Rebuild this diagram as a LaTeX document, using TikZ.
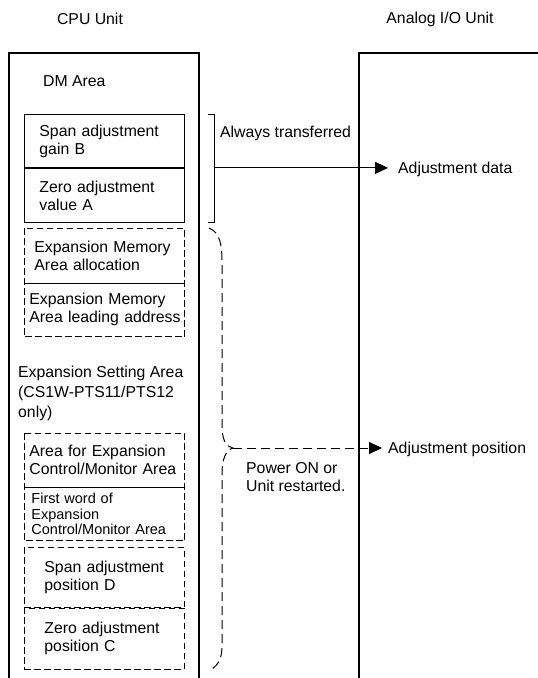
\documentclass[tikz,border=0pt]{standalone}
\usepackage{fontspec}
\setmainfont{Liberation Sans}
\usetikzlibrary{arrows.meta}
\newcommand{\lblfont}{\fontsize{15.8}{18}\selectfont}
\newcommand{\smlfont}{\fontsize{14.5}{15.5}\selectfont}
\tikzset{
  unitframe/.style={line width=1.3pt},
  cell/.style={anchor=north west, align=left, font=\lblfont, inner ysep=0pt, line width=0.9pt},
  thinline/.style={line width=0.5pt},
  dashbox/.style={line width=0.9pt, dash pattern=on 6.5pt off 3.5pt},
  bracedash/.style={line width=1pt, dash pattern=on 9pt off 5pt},
  txt/.style={font=\lblfont, inner sep=0pt, align=left},
  tip/.style={-{Triangle[length=13pt,width=12pt]}}
}
\begin{document}
\begin{tikzpicture}[x=1pt, y=-1pt]
\useasboundingbox (0,0) rectangle (538,678);

% Unit titles
\node[txt] (cputitle) at (90,19) {CPU Unit};
\node[txt] (aiotitle) at (440,19) {Analog I/O Unit};

% Unit frames, open at the bottom
\draw[unitframe] (9,678) -- (9,53) -- (199,53) -- (199,678);
\draw[unitframe] (359,678) -- (359,53) -- (538,53);

\node[txt, anchor=west] (dm) at (43,81) {DM Area};

% Words that are always transferred
\node[cell, draw, minimum height=53pt, inner xsep=15pt, text width=130pt] (gainB) at (24,114) {Span adjustment\\gain B};
\node[cell, draw, minimum height=54pt, inner xsep=15pt, text width=130pt] (valueA) at (gainB.south west) {Zero adjustment\\value A};

% Expansion Memory Area words
\node[cell, minimum height=54pt, inner xsep=10pt, text width=140pt] (alloc) at (24,228) {Expansion Memory\\Area allocation};
\node[cell, minimum height=53pt, inner xsep=5pt, text width=150pt] (lead) at (alloc.south west) {Expansion Memory\\\mbox{Area leading address}};
\draw[dashbox] (alloc.north west) rectangle (lead.south east);
\draw[thinline] (alloc.south west) -- (alloc.south east);

\node[txt, anchor=west, font=\fontsize{15.8}{20}\selectfont] (esa) at (18,393) {Expansion Setting Area\\(CS1W-PTS11/PTS12\\only)};

% Expansion Setting Area words
\node[cell, minimum height=53pt, inner xsep=5pt, text width=150pt] (ctrl) at (24,433) {Area for Expansion\\Control/Monitor Area};
\node[cell, minimum height=53pt, inner xsep=7pt, text width=146pt, font=\smlfont] (first) at (ctrl.south west) {First word of\\Expansion\\Control/Monitor Area};
\draw[dashbox] (ctrl.north west) rectangle (first.south east);
\draw[thinline] (ctrl.south west) -- (ctrl.south east);

\node[cell, draw, dashbox, minimum height=60pt, inner xsep=20pt, text width=120pt] (spanD) at (24,547) {Span adjustment\\position D};
\node[cell, draw, dashbox, minimum height=61pt, inner xsep=20pt, text width=120pt] (zeroC) at (spanD.south west) {Zero adjustment\\position C};

% Always transferred
\draw[line width=0.9pt] ([xshift=23pt]gainB.north east) -- ++(7,0) -- ([xshift=30pt]valueA.south east) -- ++(-7,0);
\coordinate (brmid) at ([xshift=30pt]gainB.south east);
\node[txt, anchor=west] (always) at (220,133) {Always transferred};
\node[txt, anchor=west, inner xsep=10pt] (adjdata) at (388,169) {Adjustment data};
\draw[line width=0.9pt, tip] (brmid) -- (brmid -| adjdata.west);

% Power ON or restart
\coordinate (brtip) at (233,448);
\draw[bracedash] ([xshift=24pt]alloc.north east) .. controls (220,232) and (222,245) .. (222,262) -- (222,425)
  .. controls (222,440) and (226,447) .. (brtip) .. controls (226,450) and (222,458) .. (222,475) -- (222,645)
  .. controls (222,658) and (219,664) .. (212,669);
\node[txt, anchor=west, inner xsep=6pt] (adjpos) at (382,449) {Adjustment position};
\draw[bracedash, tip] (brtip) -- (brtip -| adjpos.west);
\node[txt, anchor=west] (power) at (246,477.5) {Power ON or\\Unit restarted.};
\end{tikzpicture}
\end{document}
